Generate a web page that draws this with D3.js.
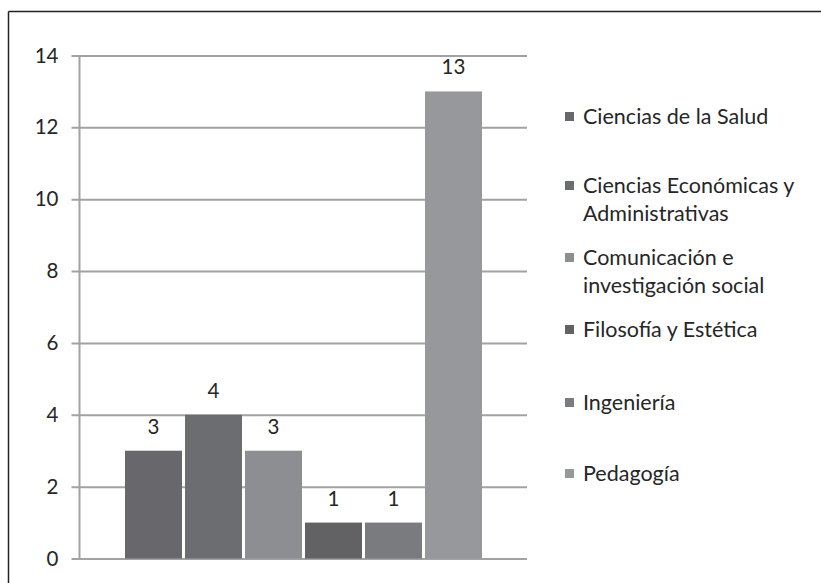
<!DOCTYPE html>
<html><head><meta charset="utf-8">
<script src="https://cdn.jsdelivr.net/npm/d3@7"></script>
<style>body{margin:0;background:#fff}svg{display:block}text{font-family:Lato,"Open Sans",sans-serif;fill:#262626}</style>
</head><body><svg id="c" width="821" height="583"></svg>
<script>
const categories = ["Ciencias de la Salud","Ciencias Económicas y Administrativas","Comunicación e investigación social","Filosofía y Estética","Ingeniería","Pedagogía"];
const values = [3,4,3,1,1,13];
const colors = ["#68686c","#6c6d71","#8d8e92","#626265","#7a7b7f","#97989c"];
const legendLines = [["Ciencias de la Salud"],["Ciencias Económicas y","Administrativas"],["Comunicación e","investigación social"],["Filosofía y Estética"],["Ingeniería"],["Pedagogía"]];
const yTicks = [0,2,4,6,8,10,12,14];

(function(){
const svg = d3.select("#c");
svg.append("line").attr("x1",8.5).attr("x2",821).attr("y1",11.5).attr("y2",11.5).attr("stroke","#222").attr("stroke-width",1.5);
svg.append("line").attr("x1",8.5).attr("x2",8.5).attr("y1",11.5).attr("y2",583).attr("stroke","#222").attr("stroke-width",1.5);

const pl=79.5, pr=527, pt=55.5, pb=558.5;
const y = d3.scaleLinear().domain([0,14]).range([pb,pt]);
const x = d3.scaleBand().domain(categories).range([125,485]).padding(0);

const g = svg.append("g");
const yAxis = d3.axisLeft(y).tickValues(yTicks).tickSize(-(pr-pl)).tickSizeOuter(0).tickPadding(13);
const ga = g.append("g").attr("transform",`translate(${pl},0)`).call(yAxis);
ga.select(".domain").remove();
ga.selectAll(".tick line").attr("stroke","#a2a2a4").attr("stroke-width",2).attr("x1",-8);
ga.selectAll(".tick text").style("font-size","20.5px").attr("fill","#262626").attr("x",-21);
g.append("line").attr("x1",pl).attr("x2",pl).attr("y1",pt).attr("y2",pb).attr("stroke","#a2a2a4").attr("stroke-width",2);

g.selectAll("rect.bar").data(categories).join("rect").attr("class","bar")
  .attr("x",d=>x(d)).attr("width",x.bandwidth()-3)
  .attr("y",(d,i)=>y(values[i])).attr("height",(d,i)=>pb-y(values[i]))
  .attr("fill",(d,i)=>colors[i]);

g.selectAll("text.lbl").data(categories).join("text").attr("class","lbl")
  .attr("x",d=>x(d)+(x.bandwidth()-3)/2).attr("y",(d,i)=>y(values[i])-17)
  .attr("text-anchor","middle").style("font-size","20.5px").text((d,i)=>values[i]);

const legY = [117,186,258,330,403,474];
const lg = svg.append("g");
legendLines.forEach((lines,i)=>{
  lg.append("rect").attr("x",565).attr("y",legY[i]-5).attr("width",9).attr("height",9).attr("fill",colors[i]);
  const t = lg.append("text").attr("x",583).attr("y",legY[i]+7).style("font-size","21.5px");
  lines.forEach((l,j)=>t.append("tspan").attr("x",583).attr("dy",j?27.5:0).text(l));
});
})();
</script></body></html>
